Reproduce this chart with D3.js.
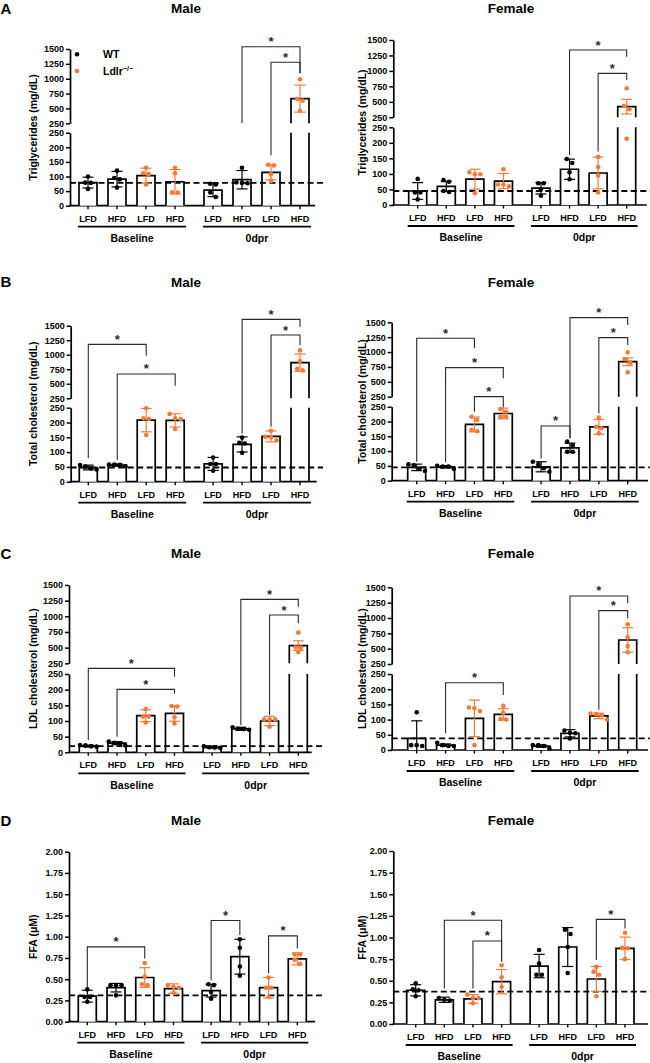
<!DOCTYPE html>
<html><head><meta charset="utf-8">
<script src="https://cdn.jsdelivr.net/npm/d3@7"></script>
<style>body{margin:0;background:#fff} svg{display:block;font-family:"Liberation Sans",Arial,Helvetica,sans-serif}</style>
</head><body><svg id="c" width="650" height="1063"></svg>
<script>
// ---------- categories / ticks ----------
const groups = ["Baseline", "0dpr"];
const diets = ["LFD", "HFD", "LFD", "HFD"];
const genotypes = ["WT", "WT", "Ldlr", "Ldlr"];
const legendLabels = ["WT", "Ldlr"];
const lowTicks = [0, 50, 100, 150, 200, 250];
const highTicks = [250, 500, 750, 1000, 1250, 1500];
const ffaTicks = [0, 0.25, 0.5, 0.75, 1.0, 1.25, 1.5, 1.75, 2.0];

// ---------- A: Triglycerides ----------
const tgMaleMean = [79, 91, 103, 82, 53, 89, 114, 665];
const tgMaleSD = [18.5, 26.5, 25.5, 42, 22, 31.5, 26, 227];
const tgMalePts = [[100,79,78,57],[120,95,90,62],[130,108,111,73],[130,111,46,45],[73,75,45,30],[130,78,77,80],[138,140,108,85],[990,631,659,457]];
const tgMaleRef = 78;
const tgMaleBr = [{a:5,b:7,top:1539,l:253,r:1091},{a:6,b:7,top:1276,l:173,r:1091}];

const tgFemaleMean = [45, 60, 83, 77, 54, 115, 103, 422];
const tgFemaleSD = [27, 16.5, 32, 24.5, 18.5, 32.5, 51, 118.5];
const tgFemalePts = [[84,40,40,18],[80,75,45,42],[99,105,99,38],[115,66,66,60],[70,70,50,30],[148,135,105,83],[155,122,95,40],[719,379,433,213]];
const tgFemaleRef = 45;
const tgFemaleBr = [{a:5,b:7,top:1338,l:161,r:1230},{a:6,b:7,top:961,l:172,r:853}];

// ---------- B: Total cholesterol ----------
const tcMaleMean = [48, 56, 208, 207, 60, 126, 153, 864];
const tcMaleSD = [8, 4, 39.5, 22.5, 22, 25.5, 18.5, 149];
const tcMalePts = [[56,51,45,41],[52,57,58,58],[248,212,214,158],[229,212,214,178],[82,60,60,37],[149,131,129,98],[172,152,150,140],[1075,890,760,730]];
const tcMaleRef = 48;
const tcMaleBr = [{a:0,b:2,top:1179,l:79,r:984},{a:1,b:3,top:669,l:73,r:468},{a:5,b:7,top:1609,l:163,r:1483},{a:6,b:7,top:1339,l:186,r:1167}];

const tcFemaleMean = [45, 47, 190, 227, 47, 111, 182, 838];
const tcFemaleSD = [11, 4, 25, 18, 17, 16, 25, 65];
const tcFemalePts = [[55,52,40,33],[40,50,48,48],[216,205,172,167],[242,233,216,216],[64,55,42,30],[132,120,98,98],[213,182,177,160],[995,878,822,659]];
const tcFemaleRef = 45;
const tcFemaleBr = [{a:0,b:2,top:1231,l:64,r:1063},{a:1,b:3,top:738,l:62,r:558},{a:2,b:3,top:284,lo:true,l:233,r:247},{a:4,b:5,top:185,l:75,r:143},{a:5,b:7,top:1578,l:143,r:1455},{a:6,b:7,top:1242,l:227,r:1119}];

// ---------- C: LDL cholesterol ----------
const ldlMaleMean = [20, 29, 117, 124, 16, 75, 100, 532];
const ldlMaleSD = [3, 5, 19, 25, 3, 5, 15, 77];
const ldlMalePts = [[18,23,19,22],[22,28,34,30],[138,114,114,95],[148,146,112,92],[14,19,16,15],[72,80,75,74],[105,105,105,82],[739,505,500,426]];
const ldlMaleRef = 20;
const ldlMaleBr = [{a:0,b:3,top:268,lo:true,l:39,r:241},{a:1,b:3,top:201,l:50,r:188},{a:5,b:7,top:1271,l:87,r:1154},{a:6,b:7,top:1021,l:119,r:888}];

const ldlFemaleMean = [38, 16, 104, 117, 13, 55, 112, 641];
const ldlFemaleSD = [58, 4, 60, 19, 4, 12, 9, 200];
const ldlFemalePts = [[124,13,16,16],[13,24,13,16],[128,140,137,16],[145,122,102,100],[5,13,16,16],[64,55,57,38],[114,120,118,100],[897,685,543,440]];
const ldlFemaleRef = 38;
const ldlFemaleBr = [{a:1,b:3,top:221,l:55,r:181},{a:5,b:7,top:1359,l:68,r:1239},{a:6,b:7,top:1120,l:132,r:995}];

// ---------- D: FFA ----------
const ffaMaleMean = [0.30, 0.40, 0.52, 0.39, 0.365, 0.765, 0.40, 0.74];
const ffaMaleSD = [0.07, 0.05, 0.115, 0.055, 0.075, 0.205, 0.12, 0.07];
const ffaMalePts = [[0.38,0.235,0.29,0.29],[0.43,0.43,0.43,0.31],[0.69,0.53,0.43,0.44],[0.40,0.43,0.41,0.34],[0.43,0.44,0.35,0.27],[0.97,0.87,0.65,0.54],[0.52,0.40,0.40,0.29],[0.79,0.79,0.73,0.68]];
const ffaMaleRef = 0.31;
const ffaMaleBr = [{a:0,b:2,top:0.88,l:0.40,r:0.745},{a:4,b:5,top:1.19,l:0.49,r:1.02},{a:6,b:7,top:1.01,l:0.57,r:0.86}];

const ffaFemaleMean = [0.39, 0.28, 0.29, 0.49, 0.67, 0.89, 0.52, 0.875];
const ffaFemaleSD = [0.065, 0.03, 0.05, 0.14, 0.135, 0.225, 0.145, 0.13];
const ffaFemalePts = [[0.47,0.39,0.40,0.32],[0.27,0.30,0.28],[0.34,0.30,0.30,0.24],[0.68,0.54,0.43],[0.855,0.70,0.57,0.57],[1.09,1.04,0.89,0.59],[0.66,0.605,0.57,0.32],[1.055,0.875,0.88,0.75]];
const ffaFemaleRef = 0.375;
const ffaFemaleBr = [{a:1,b:3,top:1.20,l:0.41,r:0.72},{a:2,b:3,top:0.96,l:0.41,r:0.73},{a:6,b:7,top:1.21,l:0.74,r:1.105}];

// ---------- layout ----------
const color = d3.scaleOrdinal(legendLabels, ["#000000", "#f5793a"]);
const svg = d3.select("#c");

const panels = [
 {letter:"A", title:"Male", titleY:13, titleX:186, ylabel:"Triglycerides (mg/dL)", broken:true, legend:true, labelX:33,
  axisX:70, first:88, last:300, xEnd:315, refEnd:323, yTop:49, yUpBot:123.3, yLoTop:132.7, y0:205.7,
  mean:tgMaleMean, sd:tgMaleSD, pts:tgMalePts, ref:tgMaleRef, br:tgMaleBr},
 {title:"Female", titleY:13, titleX:511, ylabel:"Triglycerides (mg/dL)", broken:true, labelX:362,
  axisX:393.3, first:417.7, last:626.7, xEnd:646.7, refEnd:650, yTop:40, yUpBot:117.3, yLoTop:127.3, y0:205,
  mean:tgFemaleMean, sd:tgFemaleSD, pts:tgFemalePts, ref:tgFemaleRef, br:tgFemaleBr},
 {letter:"B", title:"Male", titleY:286.5, titleX:186, ylabel:"Total cholesterol (mg/dL)", broken:true, labelX:33,
  axisX:70.7, first:88.3, last:300, xEnd:316.7, refEnd:323, yTop:325.7, yUpBot:398.3, yLoTop:407.7, y0:481.7,
  mean:tcMaleMean, sd:tcMaleSD, pts:tcMalePts, ref:tcMaleRef, br:tcMaleBr},
 {title:"Female", titleY:286.5, titleX:511, ylabel:"Total cholesterol (mg/dL)", broken:true, labelX:362,
  axisX:391.7, first:416.7, last:627.7, xEnd:648, refEnd:650, yTop:322.3, yUpBot:396.7, yLoTop:406.7, y0:480.7,
  mean:tcFemaleMean, sd:tcFemaleSD, pts:tcFemalePts, ref:tcFemaleRef, br:tcFemaleBr},
 {letter:"C", title:"Male", titleY:558, titleX:186, ylabel:"LDL cholesterol (mg/dL)", broken:true, labelX:33,
  axisX:69, first:88.3, last:298.3, xEnd:311.7, refEnd:323, yTop:585, yUpBot:663.3, yLoTop:674, y0:752.3,
  mean:ldlMaleMean, sd:ldlMaleSD, pts:ldlMalePts, ref:ldlMaleRef, br:ldlMaleBr},
 {title:"Female", titleY:558, titleX:511, ylabel:"LDL cholesterol (mg/dL)", broken:true, labelX:362,
  axisX:391.7, first:416.7, last:627.7, xEnd:648, refEnd:650, yTop:587.3, yUpBot:664, yLoTop:674, y0:750,
  mean:ldlFemaleMean, sd:ldlFemaleSD, pts:ldlFemalePts, ref:ldlFemaleRef, br:ldlFemaleBr},
 {letter:"D", title:"Male", titleY:825, titleX:186, ylabel:"FFA (\u03bcM)", broken:false, labelX:33,
  axisX:69, first:87.3, last:297.3, xEnd:315, refEnd:323, yTop:851.7, y0:1021.7,
  mean:ffaMaleMean, sd:ffaMaleSD, pts:ffaMalePts, ref:ffaMaleRef, br:ffaMaleBr},
 {title:"Female", titleY:825, titleX:511, ylabel:"FFA (\u03bcM)", broken:false, labelX:362,
  axisX:393.3, first:415.7, last:625, xEnd:648, refEnd:650, yTop:851, y0:1024,
  mean:ffaFemaleMean, sd:ffaFemaleSD, pts:ffaFemalePts, ref:ffaFemaleRef, br:ffaFemaleBr}
];

const BW = 18, CAP = 11, R = 2.3;

function jitter(ys) {
  const idx = ys.map((y, i) => i).sort((a, b) => ys[a] - ys[b]);
  const off = ys.map(() => 0);
  let cl = [idx[0]];
  const flush = () => { const n = cl.length; cl.forEach((k, j) => off[k] = (j - (n - 1) / 2) * R * 2.4); };
  for (let t = 1; t < idx.length; t++) {
    if (ys[idx[t]] - ys[idx[t - 1]] < R * 2) cl.push(idx[t]); else { flush(); cl = [idx[t]]; }
  }
  flush();
  return off;
}

function drawPanel(p) {
  const g = svg.append("g");
  const within = 3 * 29.0 * ((p.last - p.first) / 212);
  const outer = d3.scalePoint(groups, [p.first + within / 2, p.last - within / 2]);
  const innerS = d3.scalePoint(d3.range(4), [-within / 2, within / 2]);
  const cx = i => outer(groups[Math.floor(i / 4)]) + innerS(i % 4);

  let yv, lo, hi;
  if (p.broken) {
    lo = d3.scaleLinear([0, 250], [p.y0, p.yLoTop]);
    hi = d3.scaleLinear([250, 1500], [p.yUpBot, p.yTop]);
    yv = (v, forceLo) => (forceLo || v <= 250) ? lo(v) : hi(v);
  } else {
    lo = d3.scaleLinear([0, 2], [p.y0, p.yTop]);
    yv = v => lo(v);
  }
  const vseg = (a, b) => {
    if (p.broken && a < 250 && b > 250) return [[lo(a), lo(250)], [hi(250), hi(b)]];
    return [[yv(a), yv(b)]];
  };

  const styleAxis = sel => {
    sel.selectAll("path.domain").attr("stroke", "#000").attr("stroke-width", 1.7);
    sel.selectAll(".tick line").attr("stroke", "#000").attr("stroke-width", 1.5);
    sel.selectAll(".tick text").attr("font-size", 9).attr("font-weight", "bold").attr("fill", "#000")
      .attr("font-family", '"Liberation Sans",Arial,sans-serif');
  };
  if (p.broken) {
    g.append("g").attr("transform", `translate(${p.axisX},0)`)
      .call(d3.axisLeft(lo).tickValues(lowTicks).tickSize(4).tickSizeOuter(0).tickPadding(2).tickFormat(d3.format("d"))).call(styleAxis);
    g.append("g").attr("transform", `translate(${p.axisX},0)`)
      .call(d3.axisLeft(hi).tickValues(highTicks).tickSize(4).tickSizeOuter(0).tickPadding(2).tickFormat(d3.format("d"))).call(styleAxis);
  } else {
    g.append("g").attr("transform", `translate(${p.axisX},0)`)
      .call(d3.axisLeft(lo).tickValues(ffaTicks).tickSize(4).tickSizeOuter(0).tickPadding(2).tickFormat(d3.format(".2f"))).call(styleAxis);
  }
  g.append("line").attr("x1", p.axisX - 0.8).attr("x2", p.xEnd).attr("y1", p.y0).attr("y2", p.y0)
    .attr("stroke", "#000").attr("stroke-width", 1.7);
  d3.range(8).forEach(i => g.append("line").attr("x1", cx(i)).attr("x2", cx(i)).attr("y1", p.y0).attr("y2", p.y0 + 3.5)
    .attr("stroke", "#000").attr("stroke-width", 1.4));

  g.append("text").attr("transform", `translate(${p.labelX},${(p.yTop + p.y0) / 2}) rotate(-90)`)
    .attr("text-anchor", "middle").attr("dy", "0.35em").attr("font-size", 10.5).attr("font-weight", "bold").text(p.ylabel);

  p.mean.forEach((m, i) => {
    const x0 = cx(i) - BW / 2, x1 = cx(i) + BW / 2;
    let d;
    if (p.broken && m > 250) {
      d = `M${x0},${p.y0}V${lo(250)}M${x1},${lo(250)}V${p.y0}M${x0},${hi(250)}V${hi(m)}H${x1}V${hi(250)}`;
    } else {
      d = `M${x0},${p.y0}V${yv(m)}H${x1}V${p.y0}`;
    }
    g.append("path").attr("d", d).attr("fill", "#fff").attr("stroke", "#000").attr("stroke-width", 1.7);
  });

  g.append("line").attr("x1", p.axisX).attr("x2", p.refEnd).attr("y1", yv(p.ref)).attr("y2", yv(p.ref))
    .attr("stroke", "#000").attr("stroke-width", 1.8).attr("stroke-dasharray", "6,3.5");

  p.mean.forEach((m, i) => {
    const c = color(genotypes[i % 4]);
    const lowV = Math.max(0, m - p.sd[i]), highV = m + p.sd[i];
    vseg(lowV, highV).forEach(([ya, yb]) => g.append("line").attr("x1", cx(i)).attr("x2", cx(i)).attr("y1", ya).attr("y2", yb)
      .attr("stroke", c).attr("stroke-width", 1.2));
    [lowV, highV].forEach(v => { if (v > 0) g.append("line").attr("x1", cx(i) - CAP / 2).attr("x2", cx(i) + CAP / 2)
      .attr("y1", yv(v)).attr("y2", yv(v)).attr("stroke", c).attr("stroke-width", 1.2); });
  });

  p.pts.forEach((arr, i) => {
    const ys = arr.map(v => yv(v));
    const off = jitter(ys);
    arr.forEach((v, k) => g.append("circle").attr("cx", cx(i) + off[k]).attr("cy", ys[k]).attr("r", R)
      .attr("fill", color(genotypes[i % 4])));
  });

  p.br.forEach(b => {
    const xa = cx(b.a), xb = cx(b.b), yt = yv(b.top, b.lo);
    g.append("path").attr("d", `M${xa},${yv(b.l)}V${yt}H${xb}V${yv(b.r)}`)
      .attr("fill", "none").attr("stroke", "#2a2a2a").attr("stroke-width", 1.1);
    g.append("text").attr("x", (xa + xb) / 2).attr("y", yt - 0.5).attr("text-anchor", "middle")
      .attr("font-size", 13).attr("font-weight", "bold").attr("fill", "#2a2a2a").text("*");
  });

  d3.range(8).forEach(i => g.append("text").attr("x", cx(i)).attr("y", p.y0 + 16).attr("text-anchor", "middle")
    .attr("font-size", 9).attr("font-weight", "bold").text(diets[i % 4]));
  groups.forEach((gr, j) => {
    const xa = cx(j * 4) - 10, xb = cx(j * 4 + 3) + 11;
    g.append("line").attr("x1", xa).attr("x2", xb).attr("y1", p.y0 + 21).attr("y2", p.y0 + 21)
      .attr("stroke", "#000").attr("stroke-width", 1.8);
    g.append("text").attr("x", (xa + xb) / 2).attr("y", p.y0 + 36.3).attr("text-anchor", "middle")
      .attr("font-size", 10.5).attr("font-weight", "bold").text(gr);
  });

  g.append("text").attr("x", p.titleX).attr("y", p.titleY).attr("text-anchor", "middle")
    .attr("font-size", 13.5).attr("font-weight", "bold").text(p.title);
  if (p.letter) g.append("text").attr("x", 0.5).attr("y", p.titleY + 0.5).attr("font-size", 15)
    .attr("font-weight", "bold").text(p.letter);

  if (p.legend) {
    legendLabels.forEach((lab, k) => {
      const y = 54.3 + k * 16.7;
      g.append("circle").attr("cx", 77).attr("cy", y).attr("r", R).attr("fill", color(lab));
      const t = g.append("text").attr("x", 103).attr("y", y).attr("dy", "0.35em").attr("font-size", 10.5)
        .attr("font-weight", "bold").text(lab);
      if (lab === "Ldlr") t.append("tspan").attr("dy", -4).attr("font-size", 7).text("\u2212/\u2212");
    });
  }
}

panels.forEach(drawPanel);
</script></body></html>
